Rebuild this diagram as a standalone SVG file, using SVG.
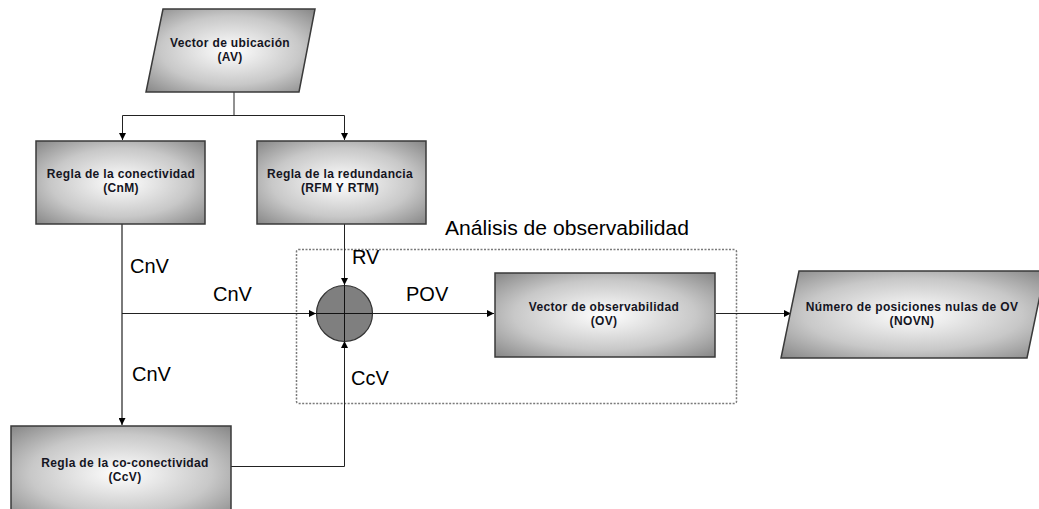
<svg xmlns="http://www.w3.org/2000/svg" width="1039" height="509" viewBox="0 0 1039 509">
  <style>
    .shape { stroke: #3a3a3a; stroke-width: 1.5; fill: url(#shade); }
    .lbl { font-family: "Liberation Sans", Arial, sans-serif; font-size: 12px; font-weight: bold; fill: #15151f; text-anchor: middle; letter-spacing: 0.35px; }
    .tag { font-family: "Liberation Sans", Arial, sans-serif; font-size: 20px; fill: #000; }
    .wire { stroke: #222; stroke-width: 1; fill: none; }
    .wire-arrow { stroke: #222; stroke-width: 1; fill: none; marker-end: url(#tip); }
  </style>
  <defs>
    <radialGradient id="shade" cx="0.5" cy="0.5" r="0.75">
      <stop offset="0" stop-color="#ffffff"/>
      <stop offset="0.55" stop-color="#c8c8c8"/>
      <stop offset="1" stop-color="#7c7c7c"/>
    </radialGradient>
    <marker id="tip" viewBox="0 0 10 10" refX="10" refY="5" markerWidth="9" markerHeight="7" markerUnits="userSpaceOnUse" orient="auto">
      <path d="M0,0 L10,5 L0,10 Z" fill="#000"/>
    </marker>
  </defs>

  <rect width="1039" height="509" fill="#ffffff"/>

  <!-- observability analysis frame -->
  <g id="analysis-frame">
    <rect x="296.5" y="249.5" width="440" height="154" rx="2" fill="none" stroke="#7a7a7a" stroke-width="1.5" stroke-dasharray="2,1.5"/>
    <text class="tag" x="445" y="235" textLength="244" lengthAdjust="spacingAndGlyphs">Análisis de observabilidad</text>
  </g>

  <!-- connectors -->
  <g id="connectors">
    <!-- AV split to both rules -->
    <path class="wire" d="M234,92 V115.5 M122.5,115.5 H344.5"/>
    <path class="wire-arrow" d="M122.5,115.5 V140"/>
    <path class="wire-arrow" d="M344.5,115.5 V140"/>
    <!-- CnV trunk down to co-connectivity rule -->
    <path d="M122,224 V425" stroke="#7a7a7a" stroke-width="2" fill="none" marker-end="url(#tip)"/>
    <!-- CnV into summing junction -->
    <path class="wire-arrow" d="M122,313.5 H316"/>
    <!-- RV into summing junction -->
    <path class="wire-arrow" d="M344.5,224 V285"/>
    <!-- CcV into summing junction -->
    <path class="wire" d="M231,466.5 H344.5 V345"/>
    <path class="wire-arrow" d="M344.5,360 V341"/>
    <!-- POV to observability vector -->
    <path class="wire-arrow" d="M372,313.5 H494"/>
    <!-- OV to null-position count -->
    <path class="wire-arrow" d="M716,313.5 H791"/>
  </g>

  <!-- summing junction -->
  <g id="junction">
    <circle cx="344.5" cy="313.5" r="28" fill="#7f7f7f" stroke="#333" stroke-width="1.2"/>
    <path d="M316.5,313.5 H372.5 M344.5,285.5 V341.5" stroke="#111" stroke-width="1"/>
  </g>

  <g id="node-av">
    <polygon class="shape" points="163,9 315,9 299,92 146,92"/>
    <text class="lbl" x="230" y="47">Vector de ubicación</text>
    <text class="lbl" x="230" y="61">(AV)</text>
  </g>

  <g id="node-cnm">
    <rect class="shape" x="36" y="141" width="169" height="83"/>
    <text class="lbl" x="121" y="178">Regla de la conectividad</text>
    <text class="lbl" x="121" y="192">(CnM)</text>
  </g>

  <g id="node-rfm">
    <rect class="shape" x="257" y="141" width="169" height="83"/>
    <text class="lbl" x="340" y="178">Regla de la redundancia</text>
    <text class="lbl" x="340" y="192">(RFM Y RTM)</text>
  </g>

  <g id="node-ccv">
    <rect class="shape" x="11" y="426" width="220" height="95"/>
    <text class="lbl" x="125" y="467">Regla de la co-conectividad</text>
    <text class="lbl" x="125" y="481">(CcV)</text>
  </g>

  <g id="node-ov">
    <rect class="shape" x="495" y="273" width="220" height="84"/>
    <text class="lbl" x="604" y="311">Vector de observabilidad</text>
    <text class="lbl" x="604" y="325">(OV)</text>
  </g>

  <g id="node-novn">
    <polygon class="shape" points="799,271 1045,271 1027,358 781,358"/>
    <text class="lbl" x="912" y="311">Número de posiciones nulas de OV</text>
    <text class="lbl" x="912" y="325">(NOVN)</text>
  </g>

  <!-- signal labels -->
  <g id="signal-labels">
    <text class="tag" x="130" y="273">CnV</text>
    <text class="tag" x="213" y="301">CnV</text>
    <text class="tag" x="132" y="381">CnV</text>
    <text class="tag" x="352" y="264">RV</text>
    <text class="tag" x="406" y="301">POV</text>
    <text class="tag" x="351" y="385">CcV</text>
  </g>
</svg>
